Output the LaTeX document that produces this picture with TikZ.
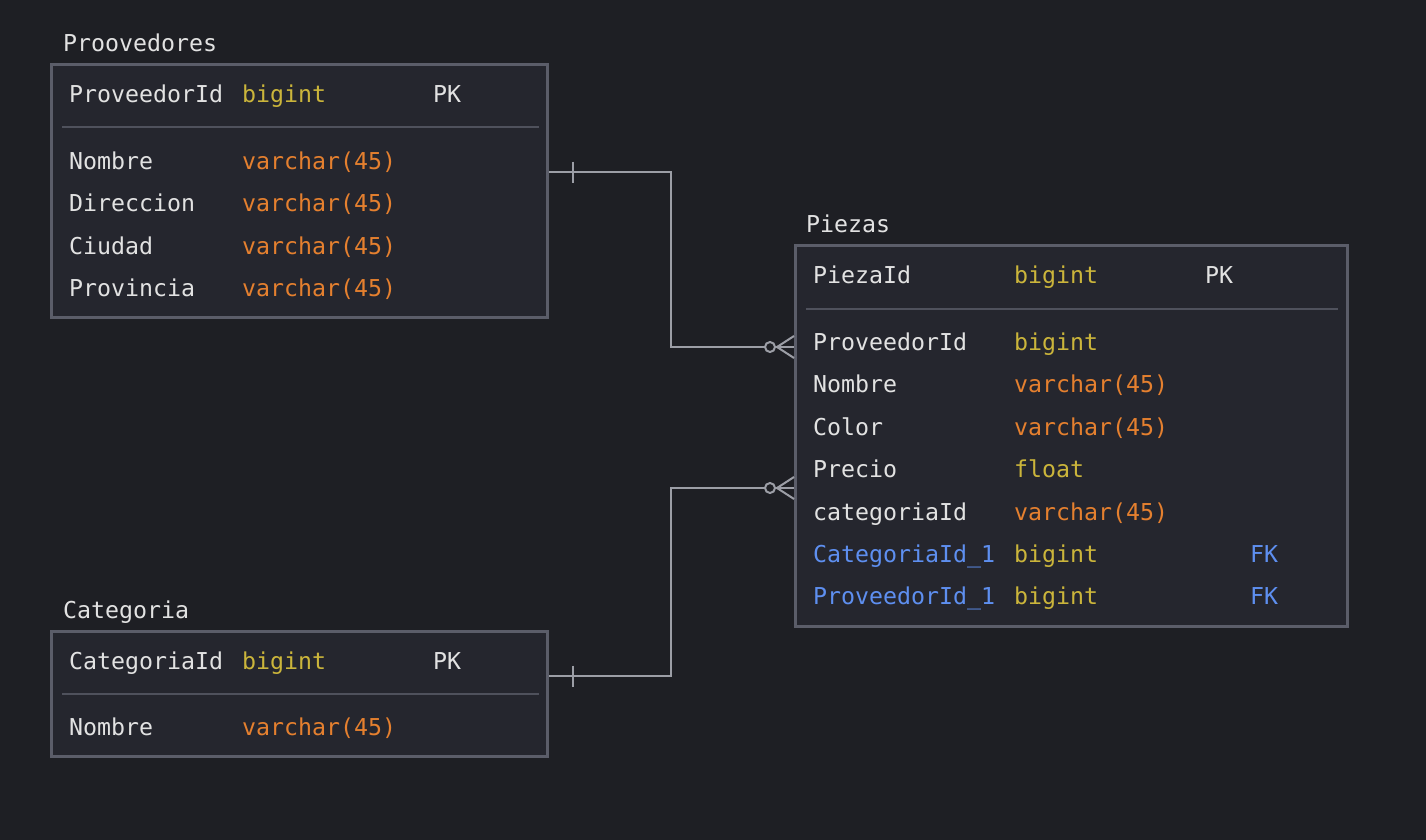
\documentclass[tikz,border=0pt]{standalone}
\usepackage{fontspec}
\usetikzlibrary{positioning}
\newfontfamily\erdfont{DejaVu Sans Mono}
\definecolor{bgcol}{HTML}{1E1F24}
\definecolor{tfill}{HTML}{25262E}
\definecolor{tborder}{HTML}{5B5D69}
\definecolor{tsep}{HTML}{4F515C}
\definecolor{ftext}{HTML}{E2E2E2}
\definecolor{fint}{HTML}{CBB53B}
\definecolor{fvar}{HTML}{E5802F}
\definecolor{ffk}{HTML}{5E8FF0}
\definecolor{rline}{HTML}{9C9EA6}
\tikzstyle{tbox}=[rectangle, draw=tborder, fill=tfill, line width=3pt,
                  anchor=north west, inner sep=0pt, outer sep=0pt]
\tikzstyle{fname}=[anchor=west, inner sep=0pt, text height=17pt, text depth=0pt,
                   text=ftext, font=\erdfont\fontsize{23.25}{28}\selectfont]
\tikzstyle{ttitle}=[fname]
\tikzstyle{ftype}=[fname, text=fint]
\tikzstyle{fvarc}=[fname, text=fvar]
\tikzstyle{fkey}=[fname, text=ffk]
\tikzstyle{sepline}=[-, line width=2pt, draw=tsep]
\tikzstyle{rel}=[-, line width=2pt, draw=rline]
\tikzstyle{tick}=[-, line width=2.5pt, draw=rline]
\begin{document}
\begin{tikzpicture}[x=1pt,y=-1pt]

\fill[bgcol] (0,0) rectangle (1426,840);
\useasboundingbox (0,0) rectangle (1426,840);

% Proovedores
\node (PROV) [tbox, minimum width=496pt, minimum height=253pt] at (51.5,64.5) {};
\node (PROVt) [ttitle] at (63,43) {Proovedores};
\draw[sepline] ([shift={(10.5,62.5)}]PROV.north west) -- ([shift={(-8.5,62.5)}]PROV.north east);
\node (PROVid) [fname] at (69,94) {ProveedorId};
\node (PROVidT) [ftype, right=173pt of PROVid.west, anchor=west] {bigint};
\node (PROVidK) [fname, right=364pt of PROVid.west, anchor=west] {PK};
\node (PROVnom) [fname, below=67pt of PROVid.west, anchor=west] {Nombre};
\node (PROVnomT) [fvarc, right=173pt of PROVnom.west, anchor=west] {varchar(45)};
\node (PROVdir) [fname, below=42.3pt of PROVnom.west, anchor=west] {Direccion};
\node (PROVdirT) [fvarc, right=173pt of PROVdir.west, anchor=west] {varchar(45)};
\node (PROVciu) [fname, below=42.3pt of PROVdir.west, anchor=west] {Ciudad};
\node (PROVciuT) [fvarc, right=173pt of PROVciu.west, anchor=west] {varchar(45)};
\node (PROVpro) [fname, below=42.3pt of PROVciu.west, anchor=west] {Provincia};
\node (PROVproT) [fvarc, right=173pt of PROVpro.west, anchor=west] {varchar(45)};

% Piezas
\node (PIEZ) [tbox, minimum width=552pt, minimum height=381pt] at (795.5,245.5) {};
\node (PIEZt) [ttitle] at (806,224) {Piezas};
\draw[sepline] ([shift={(10.5,63.5)}]PIEZ.north west) -- ([shift={(-9.5,63.5)}]PIEZ.north east);
\node (PIEZid) [fname] at (813,275) {PiezaId};
\node (PIEZidT) [ftype, right=201pt of PIEZid.west, anchor=west] {bigint};
\node (PIEZidK) [fname, right=392pt of PIEZid.west, anchor=west] {PK};
\node (PIEZprv) [fname, below=67pt of PIEZid.west, anchor=west] {ProveedorId};
\node (PIEZprvT) [ftype, right=201pt of PIEZprv.west, anchor=west] {bigint};
\node (PIEZnom) [fname, below=42.4pt of PIEZprv.west, anchor=west] {Nombre};
\node (PIEZnomT) [fvarc, right=201pt of PIEZnom.west, anchor=west] {varchar(45)};
\node (PIEZcol) [fname, below=42.4pt of PIEZnom.west, anchor=west] {Color};
\node (PIEZcolT) [fvarc, right=201pt of PIEZcol.west, anchor=west] {varchar(45)};
\node (PIEZpre) [fname, below=42.4pt of PIEZcol.west, anchor=west] {Precio};
\node (PIEZpreT) [ftype, right=201pt of PIEZpre.west, anchor=west] {float};
\node (PIEZcat) [fname, below=42.4pt of PIEZpre.west, anchor=west] {categoriaId};
\node (PIEZcatT) [fvarc, right=201pt of PIEZcat.west, anchor=west] {varchar(45)};
\node (PIEZfk1) [fkey, below=42.4pt of PIEZcat.west, anchor=west] {CategoriaId\_1};
\node (PIEZfk1T) [ftype, right=201pt of PIEZfk1.west, anchor=west] {bigint};
\node (PIEZfk1K) [fkey, right=437pt of PIEZfk1.west, anchor=west] {FK};
\node (PIEZfk2) [fkey, below=42.4pt of PIEZfk1.west, anchor=west] {ProveedorId\_1};
\node (PIEZfk2T) [ftype, right=201pt of PIEZfk2.west, anchor=west] {bigint};
\node (PIEZfk2K) [fkey, right=437pt of PIEZfk2.west, anchor=west] {FK};

% Categoria
\node (CAT) [tbox, minimum width=496pt, minimum height=125pt] at (51.5,631.5) {};
\node (CATt) [ttitle] at (63,610) {Categoria};
\draw[sepline] ([shift={(10.5,62.5)}]CAT.north west) -- ([shift={(-8.5,62.5)}]CAT.north east);
\node (CATid) [fname] at (69,661) {CategoriaId};
\node (CATidT) [ftype, right=173pt of CATid.west, anchor=west] {bigint};
\node (CATidK) [fname, right=364pt of CATid.west, anchor=west] {PK};
\node (CATnom) [fname, below=66pt of CATid.west, anchor=west] {Nombre};
\node (CATnomT) [fvarc, right=173pt of CATnom.west, anchor=west] {varchar(45)};

% relations
\coordinate (PROVr) at (549,172);
\coordinate (PIEZp) at (794,347);
\coordinate (CATr) at (549,676);
\coordinate (PIEZc) at (794,488);

\draw[rel] (PROVr) -- ++(122,0) |- (PIEZp);
\draw[tick] ([xshift=24pt]PROVr) ++(0,-10.5) -- ++(0,21);
\draw[rel] (PIEZp) ++(-17,0) -- ++(17,-11) (PIEZp) ++(-17,0) -- ++(17,11);
\draw[rel, fill=bgcol] ([xshift=-24pt]PIEZp) circle (5pt);

\draw[rel] (CATr) -- ++(122,0) |- (PIEZc);
\draw[tick] ([xshift=24pt]CATr) ++(0,-10.5) -- ++(0,21);
\draw[rel] (PIEZc) ++(-17,0) -- ++(17,-11) (PIEZc) ++(-17,0) -- ++(17,11);
\draw[rel, fill=bgcol] ([xshift=-24pt]PIEZc) circle (5pt);

\end{tikzpicture}
\end{document}
